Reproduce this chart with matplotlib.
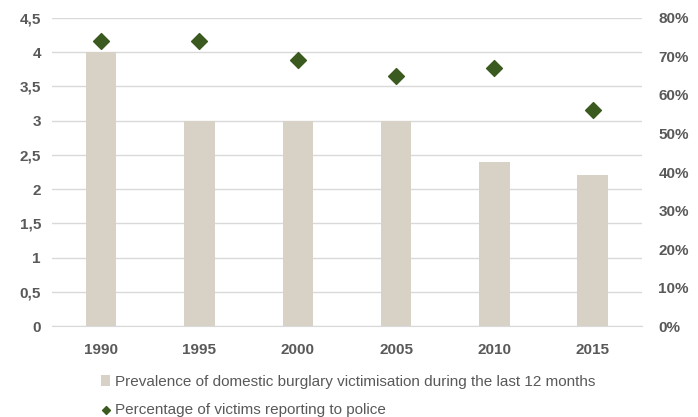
import matplotlib
matplotlib.use('Agg')
import matplotlib.pyplot as plt
from matplotlib.ticker import FuncFormatter, MultipleLocator

years = ['1990', '1995', '2000', '2005', '2010', '2015']
prevalence = [4.0, 3.0, 3.0, 3.0, 2.4, 2.2]
reporting = [74, 74, 69, 65, 67, 56]

bar_col = '#d8d1c6'
dot_col = '#3b5a1f'
txt_col = '#595959'

plt.rcParams['font.family'] = ['Liberation Sans Narrow', 'Liberation Sans', 'DejaVu Sans']

fig = plt.figure(figsize=(6.98, 4.17), dpi=100)
ax = fig.add_axes([0.0745, 0.218, 0.845, 0.739])
ax2 = ax.twinx()

x = list(range(len(years)))
b = ax.bar(x, prevalence, width=0.31, color=bar_col, zorder=2,
           label='Prevalence of domestic burglary victimisation during the last 12 months')
s = ax2.scatter(x, reporting, marker='D', s=65, color=dot_col, zorder=3,
                label='Percentage of victims reporting to police')

ax.set_xlim(-0.5, len(years) - 0.5)
ax.set_ylim(0, 4.5)
ax2.set_ylim(0, 80)
ax.yaxis.set_major_locator(MultipleLocator(0.5))
ax2.yaxis.set_major_locator(MultipleLocator(10))
ax.yaxis.set_major_formatter(FuncFormatter(lambda v, p: ('%g' % v).replace('.', ',')))
ax2.yaxis.set_major_formatter(FuncFormatter(lambda v, p: '%d%%' % v))

ax.set_xticks(x)
ax.set_xticklabels(years)
ax.grid(axis='y', color='#d9d9d9', linewidth=1, zorder=0)
ax.set_axisbelow(True)

for a in (ax, ax2):
    for sp in a.spines.values():
        sp.set_visible(False)
    a.tick_params(length=0, labelsize=11, colors=txt_col)
    for lab in a.get_xticklabels() + a.get_yticklabels():
        lab.set_fontweight('bold')
ax.spines['bottom'].set_visible(True)
ax.spines['bottom'].set_color('#d9d9d9')
ax.tick_params(axis='x', pad=12)
ax.tick_params(axis='y', pad=8)
ax2.tick_params(axis='y', pad=12)

leg = fig.legend(handles=[b, s], loc='upper left', bbox_to_anchor=(0.125, 0.134),
                 frameon=False, fontsize=11, handlelength=0.6, handletextpad=0.3,
                 labelspacing=0.9, markerscale=0.5, labelcolor=txt_col)

fig.savefig('out.png', dpi=100)
